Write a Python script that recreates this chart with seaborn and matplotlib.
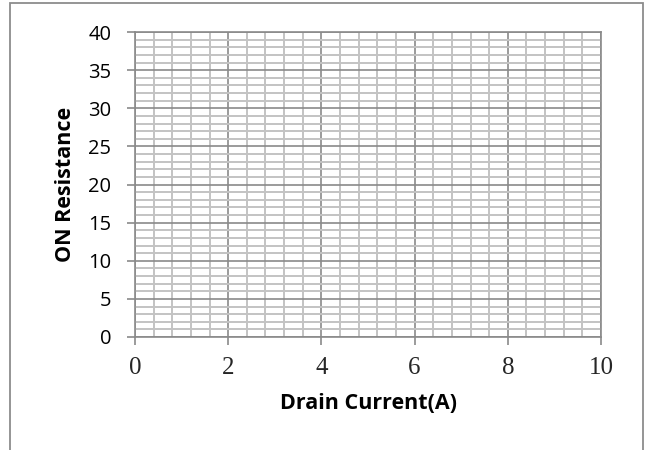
import matplotlib
matplotlib.use('Agg')
import matplotlib.pyplot as plt
import seaborn as sns
import pandas as pd
from matplotlib.patches import Rectangle
from matplotlib.ticker import MultipleLocator

# Axis ranges and ticks (the chart holds no data points)
x_ticks = [0, 2, 4, 6, 8, 10]
y_ticks = [0, 5, 10, 15, 20, 25, 30, 35, 40]
x_minor_step = 0.4
y_minor_step = 1
x_label = 'Drain Current(A)'
y_label = 'ON Resistance'

# empty series, the chart is a blank grid
drain_current = []
on_resistance = []

sns.set_theme(style='white')
plt.rcParams['font.family'] = ['Open Sans', 'DejaVu Sans']

fig = plt.figure(figsize=(6.45, 4.5), dpi=100)
ax = fig.add_axes([135 / 645, 1 - 337 / 450, 466 / 645, 305 / 450])

df = pd.DataFrame({'x': pd.Series(drain_current, dtype=float),
                   'y': pd.Series(on_resistance, dtype=float)})
sns.lineplot(data=df, x='x', y='y', ax=ax)

ax.set_xlim(x_ticks[0], x_ticks[-1])
ax.set_ylim(y_ticks[0], y_ticks[-1])
ax.set_xticks(x_ticks)
ax.set_yticks(y_ticks)
ax.xaxis.set_minor_locator(MultipleLocator(x_minor_step))
ax.yaxis.set_minor_locator(MultipleLocator(y_minor_step))

ax.grid(which='minor', color='#c3c3c3', linewidth=1.4)
ax.grid(which='major', color='#8a8a8a', linewidth=1.2)
ax.set_axisbelow(True)

for s in ax.spines.values():
    s.set_color('#8a8a8a')
    s.set_linewidth(1.2)

ax.tick_params(axis='x', which='major', direction='out', length=5.5, width=1.2,
               color='#8a8a8a', bottom=True, pad=9)
ax.tick_params(axis='y', which='major', direction='out', length=6, width=1.2,
               color='#8a8a8a', left=True, pad=11)
ax.tick_params(which='minor', length=0)

for lbl in ax.get_xticklabels():
    lbl.set_fontfamily('Liberation Serif')
    lbl.set_fontsize(18)
for lbl in ax.get_yticklabels():
    lbl.set_fontsize(14.5)
    lbl.set_color('black')

ax.set_xlabel(x_label, fontsize=15.5, fontweight='bold', color='black', labelpad=10)
ax.set_ylabel(y_label, fontsize=15.5, fontweight='bold', color='black', labelpad=9)

# outer chart frame
fig.patches.append(Rectangle((10 / 645, -0.1), 633 / 645, 1.1 - 3 / 450,
                             transform=fig.transFigure, fill=False,
                             edgecolor='#8c8c8c', linewidth=1.3))

fig.savefig('out.png', dpi=100)
